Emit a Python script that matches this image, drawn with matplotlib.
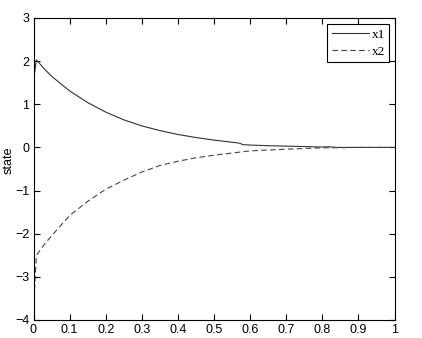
import numpy as np
import matplotlib.pyplot as plt

# values
t1 = [0, 0.008, 0.03, 0.05, 0.1, 0.15, 0.2, 0.25, 0.3, 0.35, 0.4, 0.45, 0.5,
      0.55, 0.57, 0.58, 0.6, 0.65, 0.7, 0.75, 0.8, 0.82, 0.84, 0.9, 1.0]
x1 = [1.55, 2.03, 1.82, 1.65, 1.31, 1.04, 0.82, 0.64, 0.50, 0.39, 0.30, 0.23, 0.17,
      0.12, 0.10, 0.065, 0.055, 0.04, 0.03, 0.02, 0.01, 0.015, 0.0, 0.0, 0.0]

t2 = [0, 0.003, 0.008, 0.03, 0.05, 0.1, 0.15, 0.2, 0.25, 0.3, 0.35, 0.4, 0.45,
      0.5, 0.55, 0.6, 0.65, 0.7, 0.8, 0.9, 1.0]
x2 = [-3.3, -3.27, -2.5, -2.25, -2.05, -1.58, -1.25, -0.97, -0.76, -0.57, -0.42,
      -0.32, -0.24, -0.18, -0.13, -0.08, -0.06, -0.04, -0.01, 0.0, 0.0]

plt.rcParams['font.family'] = 'Liberation Sans'

fig = plt.figure(figsize=(4.22, 3.38), dpi=100)
ax = fig.add_axes([33.5 / 422, 18 / 338, 361 / 422, 302 / 338])

ax.plot(t1, x1, '-', color='#333333', lw=0.8, label='x1')
ax.plot(t2, x2, '--', color='#444444', lw=0.8, dashes=(5, 3), label='x2')

ax.set_xlim(0, 1)
ax.set_ylim(-4, 3)
ax.set_xticks(np.arange(0, 1.01, 0.1))
ax.set_xticklabels(['0', '0.1', '0.2', '0.3', '0.4', '0.5', '0.6', '0.7', '0.8', '0.9', '1'])
ax.set_yticks(range(-4, 4))
ax.tick_params(direction='in', length=4, width=0.8, top=True, right=True,
               labelsize=9, pad=3)
for s in ax.spines.values():
    s.set_linewidth(0.8)
ax.set_ylabel('state', fontsize=9)
ax.yaxis.set_label_coords(-0.052, 0.53)

leg = ax.legend(loc='upper right', bbox_to_anchor=(0.986, 0.98), fancybox=False,
                edgecolor='black', framealpha=1, handlelength=2.8,
                prop={'family': 'Liberation Serif', 'size': 9.5},
                borderpad=0.35, labelspacing=0.35, handletextpad=0.2,
                borderaxespad=0)
leg.get_frame().set_linewidth(0.8)

fig.savefig('out.png', dpi=100)
